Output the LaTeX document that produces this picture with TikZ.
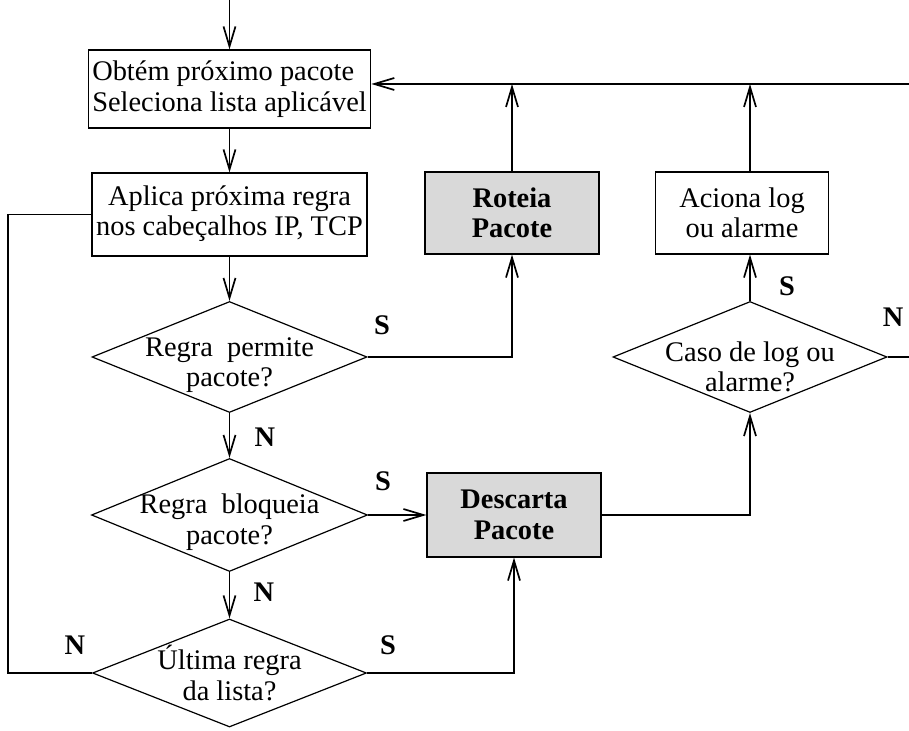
\documentclass[tikz,border=0pt]{standalone}
\usepackage{fontspec}
\setmainfont{Liberation Serif}
\usetikzlibrary{arrows.meta,shapes.geometric}
\definecolor{boxgray}{HTML}{D9D9D9}
\begin{document}
\begin{tikzpicture}[x=0.5pt,y=-0.5pt,
  every node/.style={font=\fontsize{14.2}{15.2}\selectfont},
  line width=0.7pt,
  flow/.style={line width=0.85pt,-{Straight Barb[length=10pt,width=6pt,line width=0.85pt]}},
  stepbox/.style={draw,line width=0.6pt,rectangle,inner sep=2pt,align=center},
  graybox/.style={stepbox,fill=boxgray,font=\fontsize{14.2}{15.2}\selectfont\bfseries},
  decision/.style={draw,line width=0.6pt,diamond,inner sep=0pt},
  yn/.style={font=\fontsize{14.2}{15.2}\selectfont\bfseries}]
\useasboundingbox (0,0) rectangle (909,731);

% process boxes
\node[stepbox,align=left,minimum width=137.5pt,minimum height=39pt] (obtem) at (229.5,89)
  {Obtém próximo pacote\\Seleciona lista aplicável};
\node[stepbox,minimum width=137.5pt,minimum height=41.5pt,text depth=4pt] (aplica) at (229.5,214.5)
  {Aplica próxima regra\\nos cabeçalhos IP, TCP};
\node[graybox,minimum width=87pt,minimum height=41pt] (roteia) at (512,213) {Roteia\\Pacote};
\node[stepbox,minimum width=86.5pt,minimum height=41pt] (aciona) at (742,213) {Aciona log\\ou alarme};
\node[graybox,minimum width=87pt,minimum height=42pt] (descarta) at (514,515) {Descarta\\Pacote};

% decisions
\node[decision,minimum width=137.5pt,minimum height=55.5pt,
  label={[align=center,yshift=-4pt]center:Regra~~permite\\pacote?}] (permite) at (229.5,357) {};
\node[decision,minimum width=138pt,minimum height=56.5pt,
  label={[align=center,yshift=-3.5pt]center:Regra~~bloqueia\\pacote?}] (bloqueia) at (229.5,515) {};
\node[decision,minimum width=137pt,minimum height=54pt,
  label={[align=center]center:Última regra\\da lista?}] (ultima) at (229.5,673) {};
\node[decision,minimum width=137pt,minimum height=55.5pt,
  label={[align=center,yshift=-5pt]center:Caso de log ou\\alarme?}] (caso) at (750,357) {};

% free ends
\coordinate (entra) at (229.5,0);
\coordinate (volta) at (909,84);
\coordinate (sai) at (909,357);
\coordinate (laco) at (8,400);

% connectors
\draw[flow] (entra) -- (obtem.north);
\draw[flow] (obtem.south) -- (aplica.north);
\draw[flow] (aplica.south) -- (permite.north);
\draw[flow] (permite.south) -- (bloqueia.north);
\draw[flow] (bloqueia.south) -- (ultima.north);
\draw[flow] (permite.east) -| (roteia.south);
\draw[flow] (bloqueia.east) -- (descarta.west);
\draw[flow] (ultima.east) -| (descarta.south);
\draw (ultima.west) -- (ultima.west -| laco) |- (aplica.west);
\draw[flow] (descarta.east) -| (caso.south);
\draw[flow] (caso.north) -- (caso.north |- aciona.south);
\draw (caso.east) -- (sai);
\draw[flow] (roteia.north) -- (roteia.north |- volta);
\draw[flow] (caso.north |- aciona.north) -- (caso.north |- volta);
\draw[flow] (volta) -- (volta -| obtem.east);

% branch labels
\node[yn] (s1) at (382,325) {S};
\node[yn] (n1) at (265,437) {N};
\node[yn] (s2) at (383,481) {S};
\node[yn] (n2) at (264,592) {N};
\node[yn] (n3) at (75,645) {N};
\node[yn] (s3) at (388,645) {S};
\node[yn] (s4) at (787,286) {S};
\node[yn] (n4) at (893,317) {N};
\end{tikzpicture}
\end{document}
